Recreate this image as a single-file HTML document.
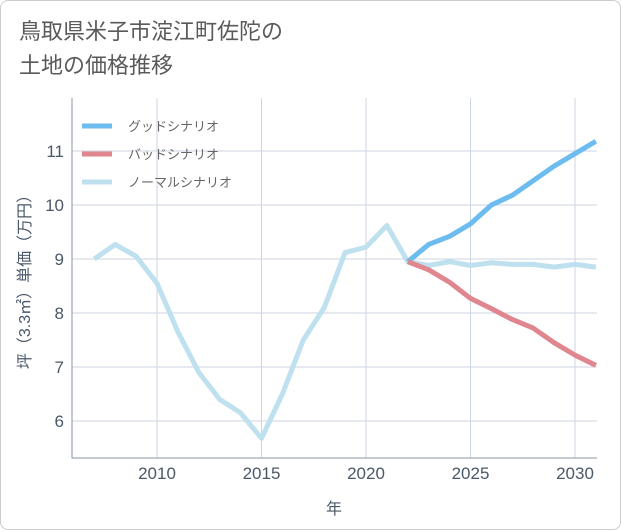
<!DOCTYPE html>
<html><head><meta charset="utf-8"><style>
body{margin:0;background:#fff;}
.card{position:absolute;left:0;top:0;width:619px;height:528px;border:1px solid #ccc;border-radius:8px;background:#fff;font-family:"Liberation Sans","Noto Sans CJK JP",sans-serif;}
.title{position:absolute;left:18px;top:14px;font-size:22px;line-height:34px;color:#5a5a5a;}
</style></head><body>
<div class="card">
<div class="title">鳥取県米子市淀江町佐陀の<br>土地の価格推移</div>
<svg id="c" width="621" height="530" style="position:absolute;left:-1px;top:-1px"></svg>
</div>
<script>
const years=[2007,2008,2009,2010,2011,2012,2013,2014,2015,2016,2017,2018,2019,2020,2021,2022,2023,2024,2025,2026,2027,2028,2029,2030,2031];
const normal=[9.0,9.27,9.05,8.55,7.65,6.9,6.4,6.15,5.68,6.5,7.5,8.1,9.12,9.22,9.62,8.95,8.88,8.95,8.88,8.93,8.9,8.9,8.85,8.9,8.85];
const goodYears=[2022,2023,2024,2025,2026,2027,2028,2029,2030,2031];
const good=[8.95,9.27,9.42,9.65,10.0,10.18,10.45,10.72,10.95,11.18];
const bad=[8.95,8.8,8.57,8.27,8.08,7.88,7.72,7.45,7.22,7.03];
const xTicks=[2010,2015,2020,2025,2030];
const yTicks=[6,7,8,9,10,11];
const NS="http://www.w3.org/2000/svg",svg=document.getElementById('c');
const L=72,R=597,T=98,B=458;
const x=v=>157+(v-2010)*20.9, y=v=>421-(v-6)*54;
function mk(t,a,p){const e=document.createElementNS(NS,t);for(const k in a)e.setAttribute(k,a[k]);(p||svg).appendChild(e);return e;}
xTicks.forEach(t=>{const g=mk('line',{x1:x(t),x2:x(t),y1:T,y2:B,stroke:'#ccd6e0'});


const tx=mk('text',{x:x(t),y:479,'text-anchor':'middle','font-size':17,fill:'#4a5868','font-family':'Liberation Sans'});tx.textContent=t;

});
yTicks.forEach(t=>{const g=mk('line',{x1:L,x2:R,y1:y(t),y2:y(t),stroke:'#ccd6e0'});


const tx=mk('text',{x:64,y:y(t)+6,'text-anchor':'end','font-size':17,fill:'#4a5868','font-family':'Liberation Sans'});tx.textContent=t;

});
const ax=mk('path',{d:`M${L},${T}V${B}H${R}`,fill:'none',stroke:'#8a96a3'});


function line(xs,vs,col,name){const p=mk('polyline',{points:xs.map((v,i)=>x(v)+','+y(vs[i])).join(' '),fill:'none',stroke:col,'stroke-width':5,'stroke-linejoin':'round'});

}
const cp=mk('clipPath',{id:'cp'});mk('rect',{x:L,y:T,width:R-L,height:B-T},cp);
line(years,normal,'#bfe0ee','normal-line');
line(goodYears,good,'#6cbcf0','good-line');
line(goodYears,bad,'#e0868e','bad-line');
svg.querySelectorAll('polyline').forEach(p=>p.setAttribute('clip-path','url(#cp)'));
[['グッドシナリオ','#6cbcf0',126],['バッドシナリオ','#e0868e',154],['ノーマルシナリオ','#bfe0ee',182]].forEach((l,i)=>{
const s=mk('line',{x1:82,x2:112,y1:l[2],y2:l[2],stroke:l[1],'stroke-width':5});


const t=mk('text',{x:128,y:l[2]+5,'font-size':13,fill:'#666','font-family':'Liberation Sans, Noto Sans CJK JP, sans-serif'});t.textContent=l[0];

});
const xt=mk('text',{x:334,y:514,'text-anchor':'middle','font-size':16,fill:'#4a5868','font-family':'Noto Sans CJK JP, sans-serif'});xt.textContent='年';


const yt=mk('text',{x:0,y:0,transform:'translate(30,278) rotate(-90)','text-anchor':'middle','font-size':16,fill:'#4a5868','font-family':'Liberation Sans, Noto Sans CJK JP, sans-serif'});yt.textContent='坪（3.3㎡）単価（万円）';


</script>
</body></html>
